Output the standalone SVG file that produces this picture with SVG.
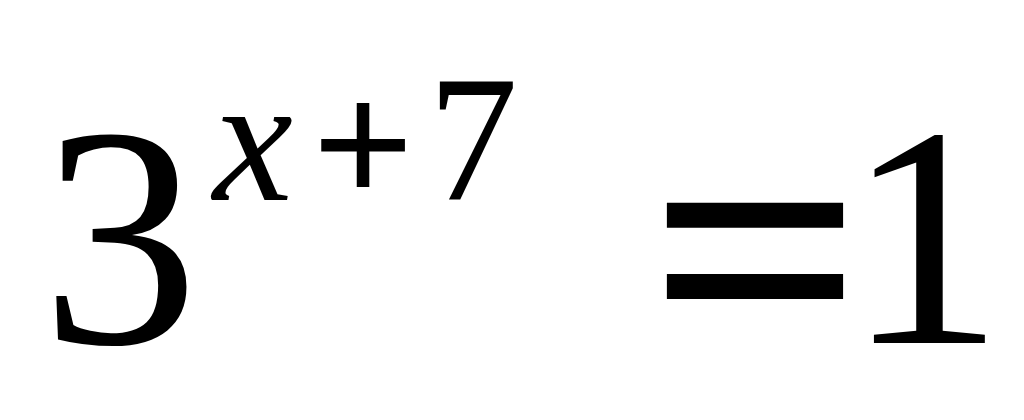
<svg xmlns="http://www.w3.org/2000/svg" width="1024" height="420" viewBox="0 0 1024 420">
<style>
.t{font-family:"Liberation Serif","Times New Roman",serif;fill:#000;text-anchor:middle}
.big{font-size:315px}
.sup{font-size:180px}
</style>
<rect width="1024" height="420" fill="#fff"/>
<g id="formula">
<text class="t big" x="120" y="343">3</text>
<text class="t sup" x="253" y="200" font-style="italic">x</text>
<text class="t sup" x="363" y="205" font-weight="bold">+</text>
<text class="t sup" x="473" y="200">7</text>
<text class="t" x="756" y="369" font-size="356" font-weight="bold" textLength="216" lengthAdjust="spacingAndGlyphs">=</text>
<text class="t big" x="925" y="343">1</text>
</g>
</svg>
